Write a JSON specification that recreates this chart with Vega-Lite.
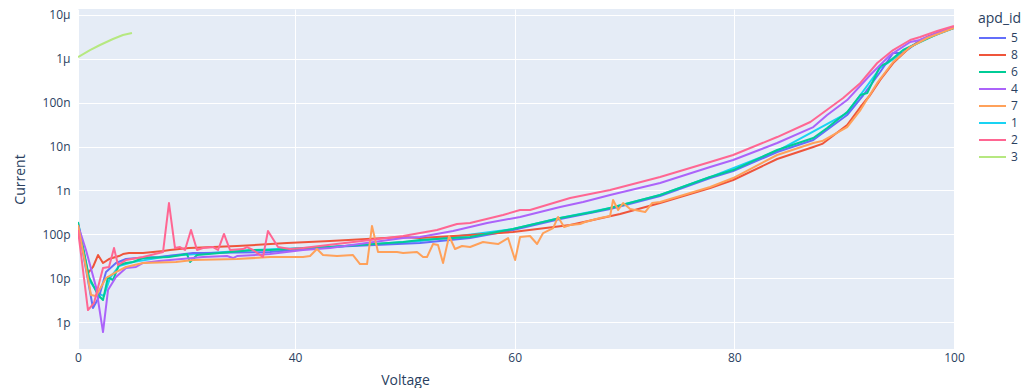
{
  "$schema": "https://vega.github.io/schema/vega-lite/v6.json",
  "autosize": {"type": "none"},
  "padding": {"left": 78, "top": 9, "right": 67, "bottom": 39},
  "width": 876,
  "height": 340,
  "background": "#ffffff",
  "config": {
    "view": {"fill": "#E5ECF6", "stroke": null},
    "axis": {
      "domain": false,
      "ticks": false,
      "gridColor": "#ffffff",
      "gridWidth": 1,
      "labelColor": "#2a3f5f",
      "labelFont": "Open Sans",
      "labelFontSize": 12,
      "titleColor": "#2a3f5f",
      "titleFont": "Open Sans",
      "titleFontSize": 14,
      "titleFontWeight": "normal"
    },
    "legend": {
      "labelColor": "#2a3f5f",
      "labelFont": "Open Sans",
      "labelFontSize": 12,
      "titleColor": "#2a3f5f",
      "titleFont": "Open Sans",
      "titleFontSize": 14,
      "titleFontWeight": "normal"
    }
  },
  "data": {
    "values": [
      {"apd_id": "1", "Voltage": 0, "Current": 1.81e-10},
      {"apd_id": "1", "Voltage": 2.03, "Current": 9.08e-12},
      {"apd_id": "1", "Voltage": 3.69, "Current": 4.59e-12},
      {"apd_id": "1", "Voltage": 4.79, "Current": 3.92e-12},
      {"apd_id": "1", "Voltage": 5.9, "Current": 1.01e-11},
      {"apd_id": "1", "Voltage": 7.56, "Current": 1.89e-11},
      {"apd_id": "1", "Voltage": 10.14, "Current": 2.34e-11},
      {"apd_id": "1", "Voltage": 16.77, "Current": 3.2e-11},
      {"apd_id": "1", "Voltage": 32.26, "Current": 4.39e-11},
      {"apd_id": "1", "Voltage": 43.19, "Current": 5.13e-11},
      {"apd_id": "1", "Voltage": 51.38, "Current": 7.03e-11},
      {"apd_id": "1", "Voltage": 59.85, "Current": 1.32e-10},
      {"apd_id": "1", "Voltage": 64.14, "Current": 2.35e-10},
      {"apd_id": "1", "Voltage": 68.69, "Current": 3.98e-10},
      {"apd_id": "1", "Voltage": 73.24, "Current": 7.87e-10},
      {"apd_id": "1", "Voltage": 77.8, "Current": 2.02e-9},
      {"apd_id": "1", "Voltage": 83.9, "Current": 7.93e-9},
      {"apd_id": "1", "Voltage": 90.27, "Current": 5.83e-8},
      {"apd_id": "1", "Voltage": 93.28, "Current": 6.19e-7},
      {"apd_id": "1", "Voltage": 96.92, "Current": 2.55e-6},
      {"apd_id": "1", "Voltage": 100, "Current": 5.05e-6},

      {"apd_id": "5", "Voltage": 0, "Current": 1.63e-10},
      {"apd_id": "5", "Voltage": 2.76, "Current": 2.09e-12},
      {"apd_id": "5", "Voltage": 3.87, "Current": 3.72e-12},
      {"apd_id": "5", "Voltage": 5.16, "Current": 1.38e-11},
      {"apd_id": "5", "Voltage": 7.0, "Current": 2.22e-11},
      {"apd_id": "5", "Voltage": 8.85, "Current": 2.73e-11},
      {"apd_id": "5", "Voltage": 10.88, "Current": 2.88e-11},
      {"apd_id": "5", "Voltage": 14.93, "Current": 3.04e-11},
      {"apd_id": "5", "Voltage": 21.2, "Current": 3.75e-11},
      {"apd_id": "5", "Voltage": 23.04, "Current": 3.75e-11},
      {"apd_id": "5", "Voltage": 35.39, "Current": 3.95e-11},
      {"apd_id": "5", "Voltage": 43.19, "Current": 5.13e-11},
      {"apd_id": "5", "Voltage": 51.38, "Current": 6.33e-11},
      {"apd_id": "5", "Voltage": 55.94, "Current": 8.23e-11},
      {"apd_id": "5", "Voltage": 59.85, "Current": 1.25e-10},
      {"apd_id": "5", "Voltage": 64.14, "Current": 2.23e-10},
      {"apd_id": "5", "Voltage": 68.69, "Current": 3.77e-10},
      {"apd_id": "5", "Voltage": 73.24, "Current": 7.46e-10},
      {"apd_id": "5", "Voltage": 77.8, "Current": 1.92e-9},
      {"apd_id": "5", "Voltage": 79.89, "Current": 2.77e-9},
      {"apd_id": "5", "Voltage": 83.9, "Current": 7.52e-9},
      {"apd_id": "5", "Voltage": 87.19, "Current": 1.41e-8},
      {"apd_id": "5", "Voltage": 90.27, "Current": 5.25e-8},
      {"apd_id": "5", "Voltage": 91.75, "Current": 1.5e-7},
      {"apd_id": "5", "Voltage": 93.28, "Current": 5.02e-7},
      {"apd_id": "5", "Voltage": 94.46, "Current": 1.36e-6},
      {"apd_id": "5", "Voltage": 95.37, "Current": 1.36e-6},
      {"apd_id": "5", "Voltage": 96.92, "Current": 2.69e-6},
      {"apd_id": "5", "Voltage": 98.47, "Current": 3.89e-6},
      {"apd_id": "5", "Voltage": 100, "Current": 5.05e-6},

      {"apd_id": "8", "Voltage": 0, "Current": 1.63e-10},
      {"apd_id": "8", "Voltage": 1.84, "Current": 1.31e-11},
      {"apd_id": "8", "Voltage": 2.76, "Current": 1.8e-11},
      {"apd_id": "8", "Voltage": 3.69, "Current": 3.37e-11},
      {"apd_id": "8", "Voltage": 4.61, "Current": 2.22e-11},
      {"apd_id": "8", "Voltage": 5.71, "Current": 2.73e-11},
      {"apd_id": "8", "Voltage": 7.56, "Current": 3.2e-11},
      {"apd_id": "8", "Voltage": 8.29, "Current": 3.55e-11},
      {"apd_id": "8", "Voltage": 9.4, "Current": 3.75e-11},
      {"apd_id": "8", "Voltage": 11.98, "Current": 3.75e-11},
      {"apd_id": "8", "Voltage": 15.67, "Current": 4.16e-11},
      {"apd_id": "8", "Voltage": 16.96, "Current": 4.39e-11},
      {"apd_id": "8", "Voltage": 20.46, "Current": 4.87e-11},
      {"apd_id": "8", "Voltage": 29.31, "Current": 5.41e-11},
      {"apd_id": "8", "Voltage": 38.53, "Current": 6.33e-11},
      {"apd_id": "8", "Voltage": 43.19, "Current": 7.03e-11},
      {"apd_id": "8", "Voltage": 49.84, "Current": 8.68e-11},
      {"apd_id": "8", "Voltage": 51.38, "Current": 8.23e-11},
      {"apd_id": "8", "Voltage": 55.94, "Current": 9.64e-11},
      {"apd_id": "8", "Voltage": 59.85, "Current": 1.13e-10},
      {"apd_id": "8", "Voltage": 65.05, "Current": 1.63e-10},
      {"apd_id": "8", "Voltage": 69.6, "Current": 2.9e-10},
      {"apd_id": "8", "Voltage": 73.24, "Current": 5.17e-10},
      {"apd_id": "8", "Voltage": 77.8, "Current": 1.14e-9},
      {"apd_id": "8", "Voltage": 79.89, "Current": 1.73e-9},
      {"apd_id": "8", "Voltage": 83.9, "Current": 5.21e-9},
      {"apd_id": "8", "Voltage": 87.19, "Current": 9.78e-9},
      {"apd_id": "8", "Voltage": 88.0, "Current": 1.15e-8},
      {"apd_id": "8", "Voltage": 90.27, "Current": 3.1e-8},
      {"apd_id": "8", "Voltage": 91.48, "Current": 7.99e-8},
      {"apd_id": "8", "Voltage": 92.37, "Current": 1.5e-7},
      {"apd_id": "8", "Voltage": 93.28, "Current": 3.3e-7},
      {"apd_id": "8", "Voltage": 94.46, "Current": 8.04e-7},
      {"apd_id": "8", "Voltage": 96.01, "Current": 1.86e-6},
      {"apd_id": "8", "Voltage": 97.56, "Current": 3.15e-6},
      {"apd_id": "8", "Voltage": 100, "Current": 5.3e-6},

      {"apd_id": "6", "Voltage": 0, "Current": 1.91e-10},
      {"apd_id": "6", "Voltage": 2.03, "Current": 1.06e-11},
      {"apd_id": "6", "Voltage": 3.69, "Current": 4.13e-12},
      {"apd_id": "6", "Voltage": 4.61, "Current": 3.18e-12},
      {"apd_id": "6", "Voltage": 5.53, "Current": 1.06e-11},
      {"apd_id": "6", "Voltage": 6.45, "Current": 9.08e-12},
      {"apd_id": "6", "Voltage": 7.56, "Current": 2.0e-11},
      {"apd_id": "6", "Voltage": 8.85, "Current": 2.22e-11},
      {"apd_id": "6", "Voltage": 10.14, "Current": 2.34e-11},
      {"apd_id": "6", "Voltage": 11.98, "Current": 2.88e-11},
      {"apd_id": "6", "Voltage": 16.77, "Current": 3.04e-11},
      {"apd_id": "6", "Voltage": 20.09, "Current": 3.55e-11},
      {"apd_id": "6", "Voltage": 20.65, "Current": 2.34e-11},
      {"apd_id": "6", "Voltage": 21.94, "Current": 3.37e-11},
      {"apd_id": "6", "Voltage": 32.26, "Current": 4.39e-11},
      {"apd_id": "6", "Voltage": 35.39, "Current": 4.39e-11},
      {"apd_id": "6", "Voltage": 43.19, "Current": 5.13e-11},
      {"apd_id": "6", "Voltage": 49.84, "Current": 6.67e-11},
      {"apd_id": "6", "Voltage": 51.38, "Current": 7.41e-11},
      {"apd_id": "6", "Voltage": 55.94, "Current": 8.68e-11},
      {"apd_id": "6", "Voltage": 59.85, "Current": 1.32e-10},
      {"apd_id": "6", "Voltage": 64.14, "Current": 2.35e-10},
      {"apd_id": "6", "Voltage": 67.14, "Current": 3.22e-10},
      {"apd_id": "6", "Voltage": 68.69, "Current": 3.98e-10},
      {"apd_id": "6", "Voltage": 73.24, "Current": 7.87e-10},
      {"apd_id": "6", "Voltage": 77.8, "Current": 2.02e-9},
      {"apd_id": "6", "Voltage": 79.89, "Current": 2.92e-9},
      {"apd_id": "6", "Voltage": 83.9, "Current": 8.36e-9},
      {"apd_id": "6", "Voltage": 87.19, "Current": 1.57e-8},
      {"apd_id": "6", "Voltage": 88.45, "Current": 2.65e-8},
      {"apd_id": "6", "Voltage": 90.27, "Current": 6.14e-8},
      {"apd_id": "6", "Voltage": 91.48, "Current": 1.5e-7},
      {"apd_id": "6", "Voltage": 92.1, "Current": 1.66e-7},
      {"apd_id": "6", "Voltage": 93.28, "Current": 6.87e-7},
      {"apd_id": "6", "Voltage": 93.92, "Current": 8.04e-7},
      {"apd_id": "6", "Voltage": 95.37, "Current": 1.59e-6},
      {"apd_id": "6", "Voltage": 96.92, "Current": 2.42e-6},
      {"apd_id": "6", "Voltage": 98.47, "Current": 3.69e-6},
      {"apd_id": "6", "Voltage": 100, "Current": 5.05e-6},

      {"apd_id": "4", "Voltage": 0, "Current": 1.63e-10},
      {"apd_id": "4", "Voltage": 1.47, "Current": 4.39e-11},
      {"apd_id": "4", "Voltage": 3.32, "Current": 6.29e-12},
      {"apd_id": "4", "Voltage": 4.61, "Current": 5.92e-13},
      {"apd_id": "4", "Voltage": 5.53, "Current": 5.37e-12},
      {"apd_id": "4", "Voltage": 7.0, "Current": 1.06e-11},
      {"apd_id": "4", "Voltage": 8.85, "Current": 1.7e-11},
      {"apd_id": "4", "Voltage": 10.69, "Current": 1.8e-11},
      {"apd_id": "4", "Voltage": 11.98, "Current": 2.22e-11},
      {"apd_id": "4", "Voltage": 14.93, "Current": 2.46e-11},
      {"apd_id": "4", "Voltage": 16.96, "Current": 2.59e-11},
      {"apd_id": "4", "Voltage": 21.2, "Current": 2.88e-11},
      {"apd_id": "4", "Voltage": 23.04, "Current": 3.04e-11},
      {"apd_id": "4", "Voltage": 27.47, "Current": 3.2e-11},
      {"apd_id": "4", "Voltage": 28.57, "Current": 2.88e-11},
      {"apd_id": "4", "Voltage": 29.31, "Current": 3.2e-11},
      {"apd_id": "4", "Voltage": 35.39, "Current": 3.55e-11},
      {"apd_id": "4", "Voltage": 40.73, "Current": 4.39e-11},
      {"apd_id": "4", "Voltage": 43.19, "Current": 4.87e-11},
      {"apd_id": "4", "Voltage": 49.84, "Current": 8.23e-11},
      {"apd_id": "4", "Voltage": 51.38, "Current": 8.68e-11},
      {"apd_id": "4", "Voltage": 54.39, "Current": 1.19e-10},
      {"apd_id": "4", "Voltage": 57.49, "Current": 1.81e-10},
      {"apd_id": "4", "Voltage": 60.49, "Current": 2.48e-10},
      {"apd_id": "4", "Voltage": 64.14, "Current": 4.19e-10},
      {"apd_id": "4", "Voltage": 66.23, "Current": 5.45e-10},
      {"apd_id": "4", "Voltage": 68.69, "Current": 7.87e-10},
      {"apd_id": "4", "Voltage": 73.24, "Current": 1.48e-9},
      {"apd_id": "4", "Voltage": 77.8, "Current": 3.42e-9},
      {"apd_id": "4", "Voltage": 79.89, "Current": 4.94e-9},
      {"apd_id": "4", "Voltage": 83.9, "Current": 1.21e-8},
      {"apd_id": "4", "Voltage": 87.19, "Current": 2.79e-8},
      {"apd_id": "4", "Voltage": 88.45, "Current": 5.25e-8},
      {"apd_id": "4", "Voltage": 90.27, "Current": 1.15e-7},
      {"apd_id": "4", "Voltage": 92.37, "Current": 4.29e-7},
      {"apd_id": "4", "Voltage": 94.19, "Current": 1.22e-6},
      {"apd_id": "4", "Voltage": 96.01, "Current": 2.42e-6},
      {"apd_id": "4", "Voltage": 96.92, "Current": 2.69e-6},
      {"apd_id": "4", "Voltage": 98.47, "Current": 3.89e-6},
      {"apd_id": "4", "Voltage": 100, "Current": 5.3e-6},

      {"apd_id": "7", "Voltage": 0, "Current": 1.63e-10},
      {"apd_id": "7", "Voltage": 1.11, "Current": 3.04e-11},
      {"apd_id": "7", "Voltage": 2.4, "Current": 4.13e-12},
      {"apd_id": "7", "Voltage": 3.32, "Current": 3.92e-12},
      {"apd_id": "7", "Voltage": 4.24, "Current": 6.29e-12},
      {"apd_id": "7", "Voltage": 5.16, "Current": 1.01e-11},
      {"apd_id": "7", "Voltage": 7.0, "Current": 1.38e-11},
      {"apd_id": "7", "Voltage": 8.85, "Current": 1.8e-11},
      {"apd_id": "7", "Voltage": 11.98, "Current": 2.22e-11},
      {"apd_id": "7", "Voltage": 18.06, "Current": 2.34e-11},
      {"apd_id": "7", "Voltage": 21.2, "Current": 2.59e-11},
      {"apd_id": "7", "Voltage": 29.31, "Current": 2.73e-11},
      {"apd_id": "7", "Voltage": 35.39, "Current": 3.04e-11},
      {"apd_id": "7", "Voltage": 40.73, "Current": 3.04e-11},
      {"apd_id": "7", "Voltage": 41.37, "Current": 3.2e-11},
      {"apd_id": "7", "Voltage": 42.0, "Current": 4.62e-11},
      {"apd_id": "7", "Voltage": 42.55, "Current": 3.37e-11},
      {"apd_id": "7", "Voltage": 43.83, "Current": 3.2e-11},
      {"apd_id": "7", "Voltage": 45.28, "Current": 3.37e-11},
      {"apd_id": "7", "Voltage": 45.92, "Current": 2.1e-11},
      {"apd_id": "7", "Voltage": 46.56, "Current": 2.1e-11},
      {"apd_id": "7", "Voltage": 47.01, "Current": 1.55e-10},
      {"apd_id": "7", "Voltage": 47.56, "Current": 3.95e-11},
      {"apd_id": "7", "Voltage": 48.65, "Current": 3.95e-11},
      {"apd_id": "7", "Voltage": 49.29, "Current": 3.95e-11},
      {"apd_id": "7", "Voltage": 49.84, "Current": 3.75e-11},
      {"apd_id": "7", "Voltage": 51.11, "Current": 3.95e-11},
      {"apd_id": "7", "Voltage": 51.66, "Current": 3.04e-11},
      {"apd_id": "7", "Voltage": 52.02, "Current": 3.04e-11},
      {"apd_id": "7", "Voltage": 52.57, "Current": 6.01e-11},
      {"apd_id": "7", "Voltage": 53.02, "Current": 5.7e-11},
      {"apd_id": "7", "Voltage": 53.48, "Current": 2.22e-11},
      {"apd_id": "7", "Voltage": 54.03, "Current": 9.15e-11},
      {"apd_id": "7", "Voltage": 54.57, "Current": 4.62e-11},
      {"apd_id": "7", "Voltage": 55.21, "Current": 5.41e-11},
      {"apd_id": "7", "Voltage": 55.94, "Current": 5.13e-11},
      {"apd_id": "7", "Voltage": 57.12, "Current": 6.67e-11},
      {"apd_id": "7", "Voltage": 57.76, "Current": 6.33e-11},
      {"apd_id": "7", "Voltage": 58.49, "Current": 6.01e-11},
      {"apd_id": "7", "Voltage": 59.4, "Current": 8.23e-11},
      {"apd_id": "7", "Voltage": 60.04, "Current": 2.59e-11},
      {"apd_id": "7", "Voltage": 60.49, "Current": 8.68e-11},
      {"apd_id": "7", "Voltage": 61.4, "Current": 9.15e-11},
      {"apd_id": "7", "Voltage": 62.04, "Current": 6.01e-11},
      {"apd_id": "7", "Voltage": 62.59, "Current": 1.07e-10},
      {"apd_id": "7", "Voltage": 63.5, "Current": 1.39e-10},
      {"apd_id": "7", "Voltage": 63.95, "Current": 2.48e-10},
      {"apd_id": "7", "Voltage": 64.5, "Current": 1.47e-10},
      {"apd_id": "7", "Voltage": 65.05, "Current": 1.63e-10},
      {"apd_id": "7", "Voltage": 65.96, "Current": 1.72e-10},
      {"apd_id": "7", "Voltage": 66.41, "Current": 1.91e-10},
      {"apd_id": "7", "Voltage": 67.78, "Current": 2.35e-10},
      {"apd_id": "7", "Voltage": 68.69, "Current": 2.61e-10},
      {"apd_id": "7", "Voltage": 68.96, "Current": 6.05e-10},
      {"apd_id": "7", "Voltage": 69.42, "Current": 3.58e-10},
      {"apd_id": "7", "Voltage": 69.87, "Current": 5.17e-10},
      {"apd_id": "7", "Voltage": 70.51, "Current": 3.77e-10},
      {"apd_id": "7", "Voltage": 71.88, "Current": 3.22e-10},
      {"apd_id": "7", "Voltage": 72.51, "Current": 5.17e-10},
      {"apd_id": "7", "Voltage": 73.24, "Current": 5.45e-10},
      {"apd_id": "7", "Voltage": 77.8, "Current": 1.2e-9},
      {"apd_id": "7", "Voltage": 79.89, "Current": 1.92e-9},
      {"apd_id": "7", "Voltage": 83.9, "Current": 6.43e-9},
      {"apd_id": "7", "Voltage": 87.19, "Current": 1.21e-8},
      {"apd_id": "7", "Voltage": 88.0, "Current": 1.34e-8},
      {"apd_id": "7", "Voltage": 90.27, "Current": 2.79e-8},
      {"apd_id": "7", "Voltage": 91.48, "Current": 6.82e-8},
      {"apd_id": "7", "Voltage": 93.01, "Current": 2.82e-7},
      {"apd_id": "7", "Voltage": 94.46, "Current": 8.48e-7},
      {"apd_id": "7", "Voltage": 96.01, "Current": 1.86e-6},
      {"apd_id": "7", "Voltage": 97.56, "Current": 2.99e-6},
      {"apd_id": "7", "Voltage": 100, "Current": 5.05e-6},

      {"apd_id": "2", "Voltage": 0, "Current": 1.25e-10},
      {"apd_id": "2", "Voltage": 1.84, "Current": 1.88e-12},
      {"apd_id": "2", "Voltage": 2.95, "Current": 2.71e-12},
      {"apd_id": "2", "Voltage": 4.61, "Current": 1.7e-11},
      {"apd_id": "2", "Voltage": 5.71, "Current": 1.8e-11},
      {"apd_id": "2", "Voltage": 6.64, "Current": 4.87e-11},
      {"apd_id": "2", "Voltage": 7.37, "Current": 2.0e-11},
      {"apd_id": "2", "Voltage": 8.85, "Current": 2.59e-11},
      {"apd_id": "2", "Voltage": 11.98, "Current": 3.04e-11},
      {"apd_id": "2", "Voltage": 15.67, "Current": 3.95e-11},
      {"apd_id": "2", "Voltage": 16.77, "Current": 5.17e-10},
      {"apd_id": "2", "Voltage": 17.88, "Current": 4.87e-11},
      {"apd_id": "2", "Voltage": 18.8, "Current": 5.13e-11},
      {"apd_id": "2", "Voltage": 19.72, "Current": 4.39e-11},
      {"apd_id": "2", "Voltage": 20.83, "Current": 1.25e-10},
      {"apd_id": "2", "Voltage": 21.94, "Current": 4.39e-11},
      {"apd_id": "2", "Voltage": 23.04, "Current": 4.87e-11},
      {"apd_id": "2", "Voltage": 24.88, "Current": 5.13e-11},
      {"apd_id": "2", "Voltage": 25.81, "Current": 4.39e-11},
      {"apd_id": "2", "Voltage": 26.91, "Current": 1.02e-10},
      {"apd_id": "2", "Voltage": 28.02, "Current": 4.39e-11},
      {"apd_id": "2", "Voltage": 30.41, "Current": 4.62e-11},
      {"apd_id": "2", "Voltage": 31.15, "Current": 5.13e-11},
      {"apd_id": "2", "Voltage": 32.26, "Current": 4.39e-11},
      {"apd_id": "2", "Voltage": 34.1, "Current": 3.04e-11},
      {"apd_id": "2", "Voltage": 35.02, "Current": 1.19e-10},
      {"apd_id": "2", "Voltage": 36.87, "Current": 5.13e-11},
      {"apd_id": "2", "Voltage": 39.08, "Current": 4.62e-11},
      {"apd_id": "2", "Voltage": 40.73, "Current": 4.87e-11},
      {"apd_id": "2", "Voltage": 46.83, "Current": 7.41e-11},
      {"apd_id": "2", "Voltage": 49.84, "Current": 9.15e-11},
      {"apd_id": "2", "Voltage": 52.93, "Current": 1.25e-10},
      {"apd_id": "2", "Voltage": 54.75, "Current": 1.72e-10},
      {"apd_id": "2", "Voltage": 55.94, "Current": 1.81e-10},
      {"apd_id": "2", "Voltage": 58.94, "Current": 2.75e-10},
      {"apd_id": "2", "Voltage": 60.49, "Current": 3.58e-10},
      {"apd_id": "2", "Voltage": 61.4, "Current": 3.58e-10},
      {"apd_id": "2", "Voltage": 65.05, "Current": 6.72e-10},
      {"apd_id": "2", "Voltage": 68.69, "Current": 1.02e-9},
      {"apd_id": "2", "Voltage": 73.24, "Current": 2.02e-9},
      {"apd_id": "2", "Voltage": 77.8, "Current": 4.45e-9},
      {"apd_id": "2", "Voltage": 79.89, "Current": 6.43e-9},
      {"apd_id": "2", "Voltage": 83.9, "Current": 1.65e-8},
      {"apd_id": "2", "Voltage": 86.92, "Current": 3.63e-8},
      {"apd_id": "2", "Voltage": 89.91, "Current": 1.28e-7},
      {"apd_id": "2", "Voltage": 91.48, "Current": 2.82e-7},
      {"apd_id": "2", "Voltage": 93.01, "Current": 8.04e-7},
      {"apd_id": "2", "Voltage": 94.46, "Current": 1.59e-6},
      {"apd_id": "2", "Voltage": 96.01, "Current": 2.69e-6},
      {"apd_id": "2", "Voltage": 96.92, "Current": 3.15e-6},
      {"apd_id": "2", "Voltage": 98.47, "Current": 4.32e-6},
      {"apd_id": "2", "Voltage": 100, "Current": 5.61e-6},

      {"apd_id": "3", "Voltage": 0, "Current": 1.1e-6},
      {"apd_id": "3", "Voltage": 2.21, "Current": 1.59e-6},
      {"apd_id": "3", "Voltage": 4.06, "Current": 2.07e-6},
      {"apd_id": "3", "Voltage": 6.45, "Current": 2.84e-6},
      {"apd_id": "3", "Voltage": 8.29, "Current": 3.5e-6},
      {"apd_id": "3", "Voltage": 9.95, "Current": 3.89e-6}
    ]
  },
  "mark": {"type": "line", "strokeWidth": 2, "strokeJoin": "round", "clip": true},
  "encoding": {
    "x": {
      "field": "Voltage",
      "type": "quantitative",
      "scale": {"domain": [0, 40, 100], "range": [0, 217, 876], "nice": false, "zero": false},
      "axis": {
        "values": [0, 40, 60, 80, 100],
        "labelFlush": false,
        "labelOverlap": false,
        "labelPadding": 3,
        "title": "Voltage",
        "titleX": 327,
        "titleY": 24,
        "titleAlign": "center",
        "titleBaseline": "top"
      }
    },
    "y": {
      "field": "Current",
      "type": "quantitative",
      "scale": {"type": "log", "domain": [2.43e-13, 1.37e-5], "nice": false},
      "axis": {
        "values": [1e-12, 1e-11, 1e-10, 1e-9, 1e-8, 1e-7, 1e-6, 1e-5],
        "format": "~s",
        "labelPadding": 8,
        "labelOverlap": false,
        "title": "Current",
        "titleX": -51,
        "titleY": 170,
        "titleAngle": 270,
        "titleAlign": "center",
        "titleBaseline": "bottom"
      }
    },
    "color": {
      "field": "apd_id",
      "type": "nominal",
      "scale": {
        "domain": ["5", "8", "6", "4", "7", "1", "2", "3"],
        "range": ["#636efa", "#EF553B", "#00cc96", "#ab63fa", "#FFA15A", "#19d3f3", "#FF6692", "#B6E880"]
      },
      "legend": {
        "title": "apd_id",
        "orient": "none",
        "legendX": 900,
        "legendY": 3,
        "padding": 0,
        "titleBaseline": "top",
        "titlePadding": 6,
        "symbolType": "M-1,0H4.4",
        "symbolSize": 100,
        "symbolStrokeWidth": 2,
        "labelOffset": 21,
        "rowPadding": 5
      }
    }
  }
}
